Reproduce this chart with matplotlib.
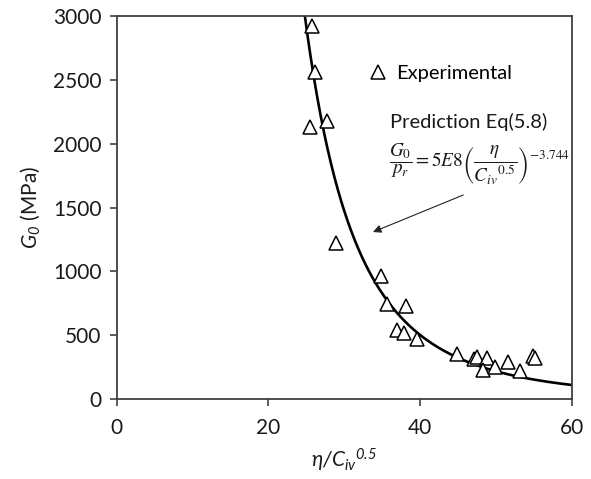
import numpy as np
import matplotlib
matplotlib.use("Agg")
import matplotlib.pyplot as plt
from matplotlib.lines import Line2D

# ---- data ----
x_exp = [25.8, 26.2, 25.5, 27.7, 28.9, 34.9, 35.6, 38.2, 36.9, 37.9, 39.6,
         44.9, 47.1, 47.5, 48.8, 48.3, 49.9, 51.6, 53.2, 54.9, 55.1]
g0_exp = [2922, 2564, 2131, 2180, 1220, 966, 744, 731, 540, 514, 467,
          352, 313, 331, 323, 227, 253, 292, 219, 339, 319]

coef_a = 5e8
coef_b = -3.744
x_fit_start, x_fit_end = 24.0, 60.0

x_ticks = [0, 20, 40, 60]
y_ticks = [0, 500, 1000, 1500, 2000, 2500, 3000]

# ---- styling ----
plt.rcParams['font.family'] = ['Lato', 'DejaVu Sans']
plt.rcParams['mathtext.fontset'] = 'custom'
plt.rcParams['mathtext.rm'] = 'Lato:italic'
plt.rcParams['mathtext.it'] = 'Lato:italic'
plt.rcParams['mathtext.fallback'] = 'stixsans'

fig = plt.figure(figsize=(5.91, 4.79), dpi=100)
ax = fig.add_axes([0.1975, 0.167, 0.7698, 0.7996])

xf = np.linspace(x_fit_start, x_fit_end, 400)
yf = coef_a * xf ** coef_b
ax.plot(xf, yf, color='black', lw=1.9, zorder=2)

ax.plot(x_exp, g0_exp, linestyle='none', marker='^', markersize=9.5,
        markerfacecolor='white', markeredgecolor='black', markeredgewidth=1.1,
        zorder=3)

ax.set_xlim(0, 60)
ax.set_ylim(0, 3000)
ax.set_xticks(x_ticks)
ax.set_yticks(y_ticks)

for s in ax.spines.values():
    s.set_color('#404040')
    s.set_linewidth(1.3)
ax.tick_params(axis='both', direction='out', length=5, width=1.2,
               color='#404040', labelsize=15, labelcolor='#1a1a1a', pad=6)
ax.tick_params(axis='x', pad=9)

ax.set_ylabel(r'$\mathit{G_0}$ (MPa)', fontsize=15, color='#1a1a1a', labelpad=8)
ax.set_xlabel(r'$\mathit{\eta/{C_{iv}}^{0.5}}$', fontsize=15, color='#1a1a1a', labelpad=6)

handle = Line2D([], [], linestyle='none', marker='^', markersize=9.5,
                markerfacecolor='white', markeredgecolor='black', markeredgewidth=1.1)
ax.legend([handle], ['Experimental'], loc='center left',
          bbox_to_anchor=(0.535, 0.851), frameon=False, fontsize=14.5,
          handlelength=1.0, handletextpad=0.4, borderaxespad=0)

ax.text(0.601, 0.723, 'Prediction Eq(5.8)', transform=ax.transAxes,
        fontsize=14.5, va='center', ha='left', color='#1a1a1a')
ax.text(0.598, 0.612,
        r'$\dfrac{G_0}{p_r} = 5E8\left(\dfrac{\eta}{{C_{iv}}^{0.5}}\right)^{-3.744}$',
        transform=ax.transAxes, fontsize=13.8, va='center', ha='left',
        math_fontfamily='stix', color='#1a1a1a')

ax.annotate('', xy=(33.8, 1308), xytext=(45.7, 1598),
            arrowprops=dict(arrowstyle='-|>', lw=0.8, color='#222222',
                            mutation_scale=12, shrinkA=0, shrinkB=0))

fig.savefig('out.png', dpi=100)
